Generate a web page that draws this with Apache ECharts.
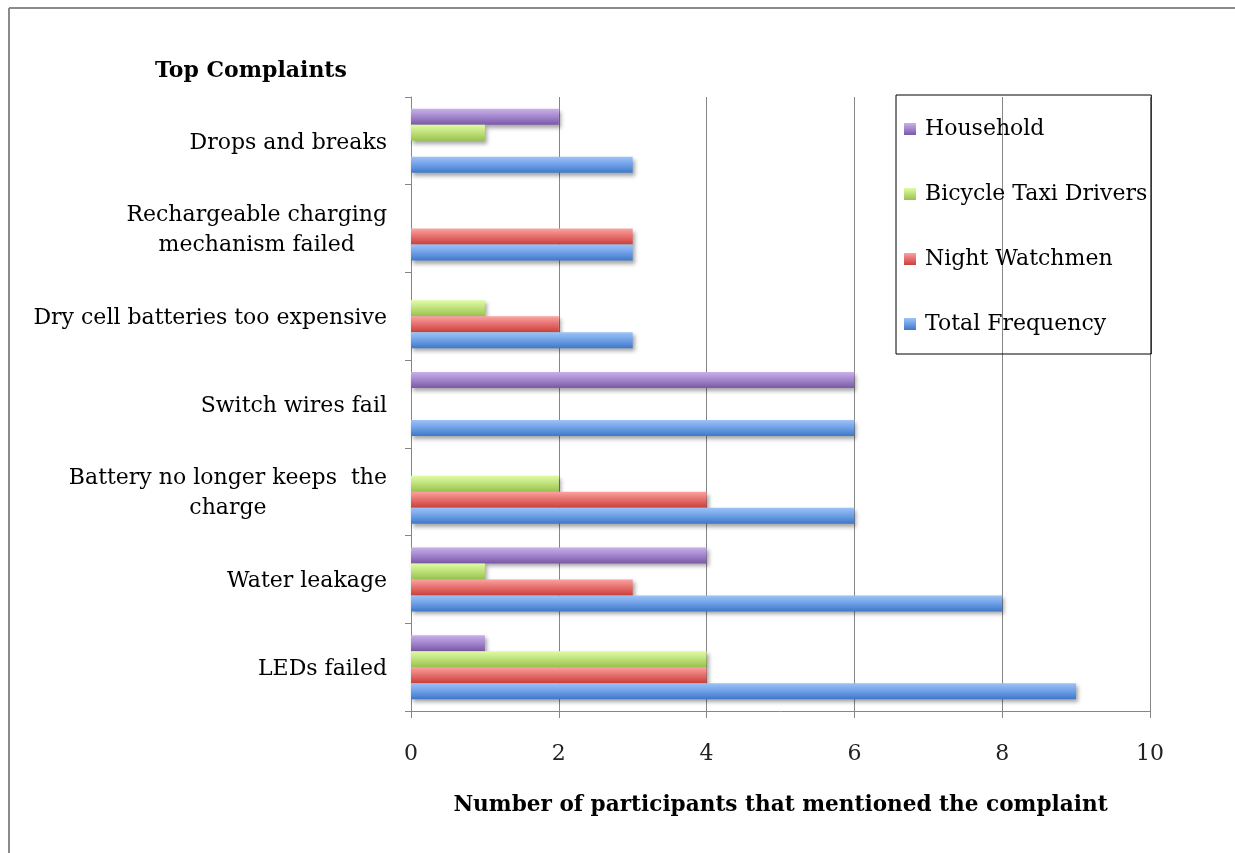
<!DOCTYPE html>
<html>
<head>
<meta charset="utf-8">
<script src="https://cdn.jsdelivr.net/npm/echarts@6/dist/echarts.min.js"></script>
<style>
  html, body { margin: 0; padding: 0; background: #fff; }
  #chart { width: 1235px; height: 853px; }
</style>
</head>
<body>
<div id="chart"></div>
<script>
// categories, bottom to top
const complaints = [
  "LEDs failed",
  "Water leakage",
  "Battery no longer keeps  the\ncharge",
  "Switch wires fail",
  "Dry cell batteries too expensive",
  "Rechargeable charging\nmechanism failed",
  "Drops and breaks"
];
const totalFrequency = [9, 8, 6, 6, 3, 3, 3];
const nightWatchmen = [4, 3, 4, null, 2, 3, null];
const bicycleDrivers = [4, 1, 2, null, 1, null, 1];
const household = [1, 4, null, 6, null, null, 2];
const xTicks = [0, 10, 2];

const FONT = "DejaVu Serif";
const chart = echarts.init(document.getElementById("chart"));

function grad(top, mid, bottom) {
  return new echarts.graphic.LinearGradient(0, 0, 0, 1, [
    { offset: 0, color: top },
    { offset: 0.5, color: mid },
    { offset: 1, color: bottom }
  ]);
}

function barSeries(name, data, color) {
  return {
    name: name,
    type: "bar",
    data: data,
    barWidth: 16,
    barGap: "0%",
    itemStyle: {
      color: color,
      shadowColor: "rgba(0,0,0,0.35)",
      shadowBlur: 4,
      shadowOffsetX: 2,
      shadowOffsetY: 3
    }
  };
}

// first series sits at the top of each group, so Household goes first
chart.setOption({
  backgroundColor: "#fff",
  animation: false,
  title: {
    text: "Top Complaints",
    left: 150,
    top: 55,
    textStyle: { fontFamily: FONT, fontWeight: "bold", fontSize: 22, color: "#000" }
  },
  legend: {
    orient: "vertical",
    left: 896,
    top: 95,
    data: ["Household", "Bicycle Taxi Drivers", "Night Watchmen", "Total Frequency"],
    icon: "rect",
    itemWidth: 12,
    itemHeight: 12,
    itemGap: 43,
    padding: [23, 4, 19, 8],
    borderColor: "#000",
    borderWidth: 1,
    textStyle: { fontFamily: FONT, fontSize: 22, color: "#000", padding: [0, 0, 0, 4] }
  },
  grid: { left: 411, right: 85, top: 97, bottom: 142 },
  xAxis: {
    type: "value",
    min: xTicks[0],
    max: xTicks[1],
    interval: xTicks[2],
    name: "Number of participants that mentioned the complaint",
    nameLocation: "middle",
    nameGap: 83,
    nameTextStyle: { fontFamily: FONT, fontWeight: "bold", fontSize: 21.6, color: "#000" },
    axisLine: { show: true, lineStyle: { color: "#868686" } },
    axisTick: { show: true, length: 7, lineStyle: { color: "#868686" } },
    splitLine: { show: true, lineStyle: { color: "#868686" } },
    axisLabel: { fontFamily: FONT, fontSize: 22, color: "#222", margin: 32 }
  },
  yAxis: {
    type: "category",
    data: complaints,
    axisLine: { show: true, lineStyle: { color: "#868686" } },
    axisTick: { show: true, length: 6, lineStyle: { color: "#868686" } },
    axisLabel: {
      fontFamily: FONT,
      fontSize: 22,
      color: "#000",
      margin: 24,
      lineHeight: 30,
      padding: [4, 0, 0, 0],
      formatter: (v) => v.split("\n").map((l) => "{c|" + l + "}").join("\n"),
      rich: { c: { align: "center", fontFamily: FONT, fontSize: 22, lineHeight: 30, color: "#000" } }
    }
  },
  series: [
    barSeries("Household", household, grad("#c9b0ea", "#a285cc", "#7a58a6")),
    barSeries("Bicycle Taxi Drivers", bicycleDrivers, grad("#e0fca2", "#bde07a", "#98c24c")),
    barSeries("Night Watchmen", nightWatchmen, grad("#fba3a1", "#e56e6b", "#c9403c")),
    barSeries("Total Frequency", totalFrequency, grad("#9dc3f7", "#6e9fe6", "#3e78c8"))
  ],
  graphic: [
    { type: "line", shape: { x1: 9, y1: 8, x2: 1235, y2: 8 }, style: { stroke: "#8a8a8a", lineWidth: 2 } },
    { type: "line", shape: { x1: 9, y1: 8, x2: 9, y2: 853 }, style: { stroke: "#8a8a8a", lineWidth: 2 } }
  ]
});
</script>
</body>
</html>
